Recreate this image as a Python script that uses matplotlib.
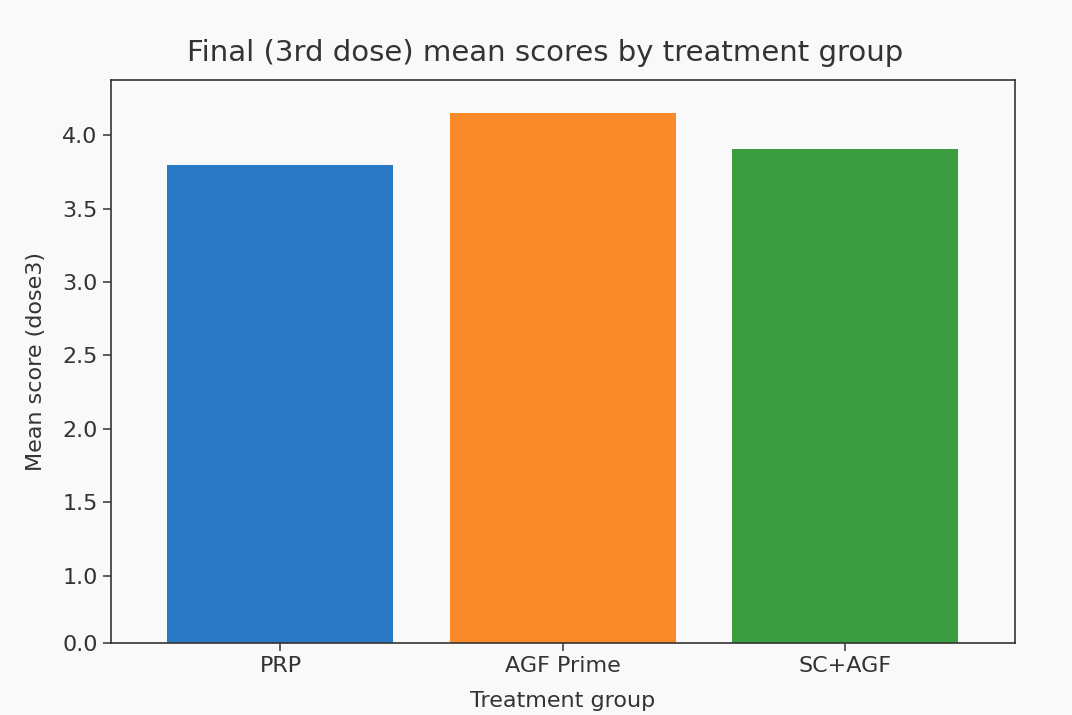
import numpy as np
import matplotlib
matplotlib.use("Agg")
import matplotlib.pyplot as plt

groups = ["PRP", "AGF Prime", "SC+AGF"]
mean_scores = [3.80, 4.15, 3.91]
bar_colors = ["#2878c3", "#f98a29", "#3a9d40"]
ytick_values = [0.0, 1.0, 1.5, 2.0, 2.5, 3.0, 3.5, 4.0]

# the reference compresses the 0-1 band of the value axis
K = 0.46
def fwd(y):
    y = np.asarray(y, dtype=float)
    return np.where(y < 1, y * K, K + (y - 1))
def inv(v):
    v = np.asarray(v, dtype=float)
    return np.where(v < K, v / K, (v - K) + 1)

bg = "#f9f9f9"
txt = "#333333"
plt.rcParams['font.family'] = ['DejaVu Sans']
fig = plt.figure(figsize=(10.72, 7.15), dpi=100, facecolor=bg)
ax = fig.add_axes([0.1035, 0.1007, 0.8433, 0.7874], facecolor=bg)

x = np.arange(len(groups))
ax.bar(x, mean_scores, width=0.8, color=bar_colors)
ax.set_yscale('function', functions=(fwd, inv))
ax.set_ylim(0, 4.377)
ax.set_xlim(-0.6, 2.6)
ax.set_yticks(ytick_values)
ax.set_yticklabels([f"{v:.1f}" for v in ytick_values])
ax.set_xticks(x)
ax.set_xticklabels(groups)
ax.yaxis.set_minor_locator(matplotlib.ticker.NullLocator())

ax.tick_params(labelsize=16, colors=txt, length=6, width=1.1)
for s in ax.spines.values():
    s.set_color("#333333")
    s.set_linewidth(1.2)

ax.set_title("Final (3rd dose) mean scores by treatment group", fontsize=21, color=txt, pad=14, x=0.48)
ax.set_xlabel("Treatment group", fontsize=16, color=txt, labelpad=11)
ax.set_ylabel("Mean score (dose3)", fontsize=16, color=txt, labelpad=12)

fig.savefig("out.png", dpi=100, facecolor=bg)
